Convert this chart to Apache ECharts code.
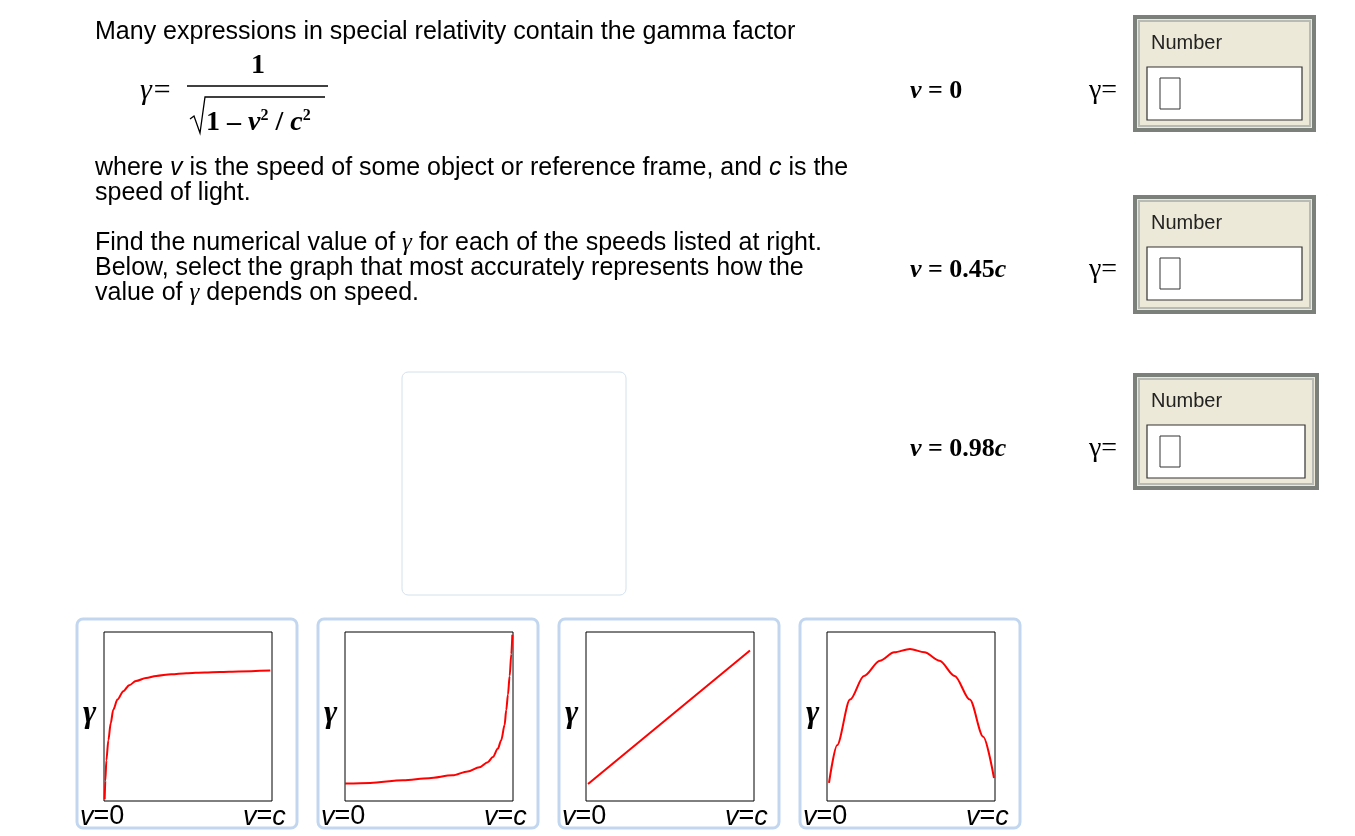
<!DOCTYPE html>
<html><head><meta charset="utf-8">
<script src="https://cdn.jsdelivr.net/npm/echarts@6/dist/echarts.min.js"></script>
<style>html,body{margin:0;padding:0;background:#fff}#c{width:1355px;height:836px}</style>
</head><body><div id="c"></div>
<script>
// curve data, x in fraction of v/c, y in fraction of plot height
const curve1 = [[0.004,0.01],[0.008,0.12],[0.014,0.24],[0.026,0.36],[0.04,0.46],[0.055,0.54],[0.08,0.6],[0.115,0.65],[0.15,0.685],[0.19,0.71],[0.25,0.728],[0.31,0.74],[0.4,0.75],[0.49,0.756],[0.6,0.761],[0.69,0.764],[0.8,0.767],[0.99,0.772]];
const curve2 = [[0,0.103],[0.15,0.107],[0.345,0.123],[0.5,0.135],[0.64,0.152],[0.73,0.175],[0.8,0.2],[0.85,0.23],[0.88,0.26],[0.91,0.31],[0.93,0.36],[0.95,0.45],[0.96,0.54],[0.97,0.63],[0.98,0.74],[0.99,0.87],[0.996,0.984]];
const curve3 = [[0.012,0.10],[0.976,0.89]];
const curve4 = [[0.012,0.107],[0.06,0.33],[0.137,0.6],[0.22,0.74],[0.315,0.83],[0.4,0.88],[0.494,0.9],[0.58,0.88],[0.67,0.83],[0.76,0.74],[0.85,0.6],[0.93,0.38],[0.994,0.136]];
const curves = [curve1, curve2, curve3, curve4];
const speedLabels = ['0', '0.45', '0.98'];

const chart = echarts.init(document.getElementById('c'));
const sans = 'Liberation Sans, Arial, sans-serif';
const serif = 'Liberation Serif, Times New Roman, serif';
const g = [];
function txt(x,y,text,rich,style){g.push({type:'text',x:x,y:y,style:Object.assign({text:text,rich:rich||{},font:'25px '+sans,fill:'#000',textVerticalAlign:'middle'},style||{})});}
const R = {i:{fontStyle:'italic',fontSize:25,fontFamily:sans},gi:{fontStyle:'italic',fontSize:25,fontFamily:serif}};
txt(95,32,'Many expressions in special relativity contain the gamma factor');
txt(95,168,'where {i|v} is the speed of some object or reference frame, and {i|c} is the',R);
txt(95,193,'speed of light.');
txt(95,243,'Find the numerical value of {gi|γ} for each of the speeds listed at right.',R);
txt(95,268,'Below, select the graph that most accurately represents how the');
txt(95,293,'value of {gi|γ} depends on speed.',R);
// formula
txt(140,91,'γ=',null,{font:'italic 30px '+serif});
txt(251,66,'1',null,{font:'bold 28px '+serif});
g.push({type:'line',shape:{x1:187,y1:86,x2:328,y2:86},style:{stroke:'#000',lineWidth:1.5}});
g.push({type:'polyline',shape:{points:[[190,119],[194,116],[200,133],[205,97],[325,97]]},style:{stroke:'#000',lineWidth:1.3,fill:null}});
txt(206,123,'{b|1 – }{bi|v}{s|2}{b| / }{bi|c}{s|2}',{b:{font:'bold 28px '+serif},bi:{font:'bold italic 28px '+serif},s:{font:'bold 16px '+serif,verticalAlign:'top',padding:[0,0,14,0]}});
// right column
const rowsY=[91,270,449], boxTop=[17,197,375];
speedLabels.forEach((s,k)=>{
  const y=rowsY[k];
  txt(910,y,'{vi|v}{b| = '+s+'}'+(k>0?'{bi|c}':''),{vi:{font:'bold italic 26px '+serif},b:{font:'bold 26px '+serif},bi:{font:'bold italic 26px '+serif}});
  txt(1089,y,'γ=',null,{font:'28px '+serif});
  const t=boxTop[k], w=k==2?182:179, h=k==1?115:113;
  g.push({type:'rect',shape:{x:1135,y:t,width:w,height:h},style:{fill:'#ece9d8',stroke:'#7b807b',lineWidth:4}});
  g.push({type:'rect',shape:{x:1139,y:t+4,width:w-8,height:h-8},style:{fill:null,stroke:'#b8bbb3',lineWidth:2}});
  txt(1151,t+26,'Number',null,{font:'20px '+sans,fill:'#222'});
  g.push({type:'rect',shape:{x:1147,y:t+50,width:w-24,height:53},style:{fill:'#fff',stroke:'#333',lineWidth:1.2}});
  g.push({type:'rect',shape:{x:1160,y:t+61,width:20,height:31},style:{fill:'#fff',stroke:'#333',lineWidth:1}});
});
// drop box
g.push({type:'rect',shape:{x:402,y:372,width:224,height:223,r:6},style:{fill:'#fff',stroke:'#d3e1ec',lineWidth:1}});
// cards
const grids=[],xAxes=[],yAxes=[],series=[];
const IR={i:{fontStyle:'italic',fontSize:27,fontFamily:sans}};
curves.forEach((c,k)=>{
  const cx=77+241*k;
  g.push({type:'rect',z:-1,shape:{x:cx,y:619,width:220,height:209,r:6},style:{fill:'#fff',stroke:'#c2d7ef',lineWidth:3}});
  txt(cx+6,714,'γ',null,{font:'bold italic 32px '+serif});
  txt(cx+3,817,'{i|v}=0',IR,{font:'27px '+sans});
  txt(cx+166,817,'{i|v}={i|c}',IR,{font:'27px '+sans});
  grids.push({left:cx+27,top:632,width:168,height:169,show:true,borderColor:'#000',borderWidth:1,backgroundColor:'transparent'});
  xAxes.push({type:'value',gridIndex:k,min:0,max:1,show:false});
  yAxes.push({type:'value',gridIndex:k,min:0,max:1,show:false});
  series.push({type:'line',xAxisIndex:k,yAxisIndex:k,data:c,smooth:0.3,smoothMonotone:'x',showSymbol:false,lineStyle:{color:'#ff0000',width:2},silent:true,animation:false});
});
chart.setOption({animation:false,grid:grids,xAxis:xAxes,yAxis:yAxes,series:series,graphic:{elements:g}});
</script></body></html>
